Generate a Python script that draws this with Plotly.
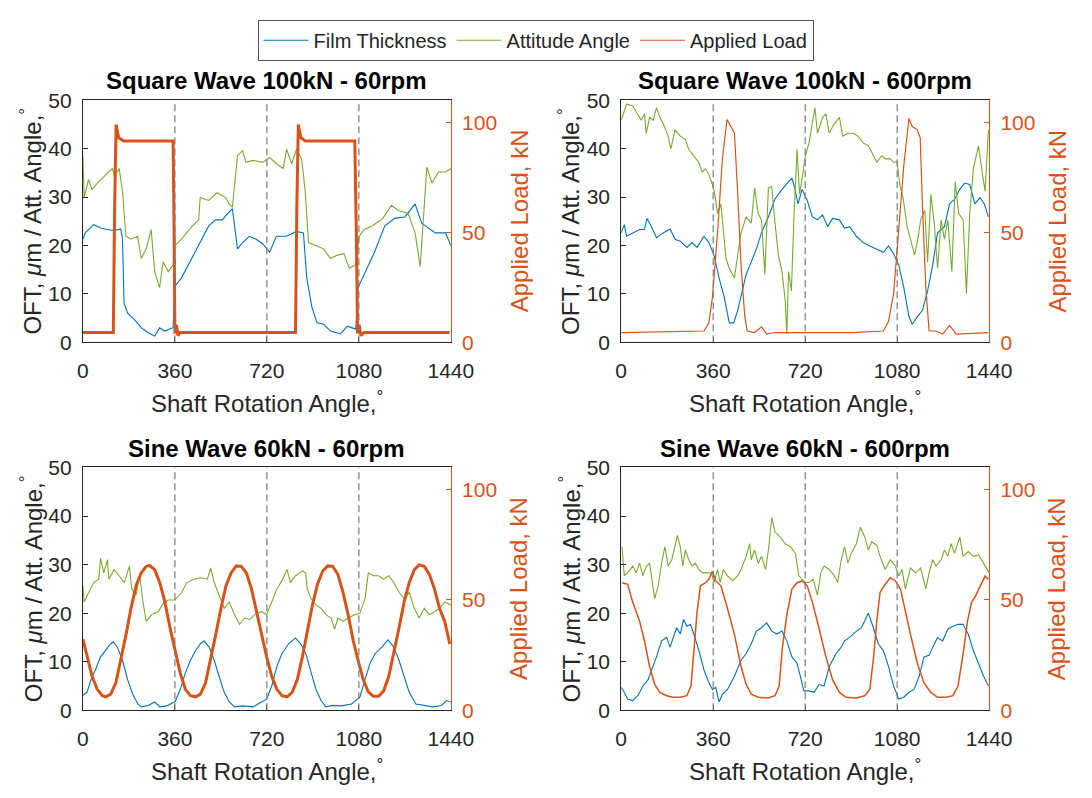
import plotly.graph_objects as go

# ---------------- data ----------------
# Square Wave 100kN - 60rpm
sq60_load_x = [0, 119, 124, 130, 140, 160, 200, 250, 300, 340, 353, 357, 360, 366, 372, 380, 450, 550, 650, 750, 832, 837, 843, 853, 870, 920, 980, 1030, 1064, 1070, 1075, 1081, 1088, 1100, 1200, 1300, 1435]
sq60_load_y = [4.4, 4.4, 60, 99, 93, 91.5, 91.5, 91.5, 91.5, 91.5, 91.5, 50, 4, 8, 3, 4.4, 4.4, 4.4, 4.4, 4.4, 4.4, 60, 99, 93, 91.5, 91.5, 91.5, 91.5, 91.5, 50, 4, 8, 3, 4.4, 4.4, 4.4, 4.4]
sq60_film_x = [0, 9, 42, 69, 95, 122, 148, 155, 161, 175, 201, 228, 254, 281, 300, 320, 353, 360, 386, 426, 466, 492, 519, 545, 572, 585, 605, 625, 651, 678, 704, 731, 757, 797, 836, 863, 876, 896, 916, 942, 969, 1008, 1035, 1068, 1077, 1101, 1141, 1181, 1220, 1260, 1300, 1326, 1353, 1379, 1419, 1440]
sq60_film_y = [21.3, 22.6, 24.3, 23.6, 23.3, 23.1, 23.4, 21.3, 8, 6, 4.7, 3, 2, 1.3, 3, 2.3, 3, 11.6, 13.3, 17.3, 21.3, 24, 25.3, 25.3, 26.9, 27.6, 19.3, 20.6, 21.9, 21.3, 20.3, 18.6, 21.9, 21.9, 22.9, 22.6, 13.3, 7.3, 4, 3.7, 2.3, 1.7, 3.3, 2.7, 11.3, 14, 18.6, 24, 25.6, 25.9, 28.6, 24.6, 23.6, 22.6, 22.6, 20]
sq60_att_x = [0, 5, 22, 36, 62, 95, 115, 124, 142, 155, 168, 188, 214, 228, 248, 267, 281, 300, 314, 334, 353, 360, 386, 426, 453, 459, 492, 525, 559, 572, 585, 605, 625, 638, 664, 704, 731, 757, 784, 797, 817, 836, 856, 870, 883, 916, 942, 969, 995, 1022, 1042, 1068, 1081, 1101, 1128, 1147, 1174, 1207, 1233, 1273, 1300, 1320, 1333, 1346, 1366, 1392, 1419, 1440]
sq60_att_y = [38.6, 29.9, 33.6, 31.6, 33.2, 34.9, 35.9, 34.2, 35.9, 31.2, 21.9, 21.3, 21.9, 17.3, 19.3, 23.3, 14.6, 11.3, 16.6, 14.6, 16, 19.9, 21.3, 23.9, 25.3, 29.9, 29.3, 30.9, 29.9, 28.6, 27.9, 38.6, 39.6, 37.2, 37.6, 37.2, 38.2, 36.9, 35.9, 39.9, 36.9, 39.9, 37.9, 31.2, 20.6, 19.9, 19.3, 17.3, 18, 18.3, 15.3, 16, 21.9, 23.3, 23.9, 24.6, 25.6, 28.3, 27.3, 26.6, 22.6, 15.6, 26.6, 36.2, 32.9, 35.2, 35.2, 35.9]

# Square Wave 100kN - 600rpm
sq600_load_x = [0, 324, 343, 357, 377, 396, 414, 423, 436, 443, 456, 469, 483, 493, 522, 549, 569, 602, 700, 800, 900, 1026, 1046, 1066, 1086, 1106, 1126, 1139, 1159, 1170, 1179, 1192, 1205, 1232, 1258, 1285, 1311, 1437]
sq600_load_y = [4.4, 5.1, 8.8, 20.5, 49.8, 83.5, 101.3, 99.6, 96.6, 95.2, 67.3, 35.1, 12.4, 5.1, 4.4, 7, 3.7, 4.4, 4.4, 4.4, 4.4, 5.1, 9.5, 22, 49.8, 80.5, 101.8, 98.1, 96.6, 93, 61.5, 24.9, 5.1, 5.1, 3.7, 7.6, 3.7, 4.4]
sq600_film_x = [0, 12, 21, 45, 72, 91, 101, 118, 138, 164, 191, 211, 231, 257, 277, 297, 324, 343, 363, 383, 403, 423, 440, 456, 469, 489, 509, 529, 549, 576, 602, 629, 655, 668, 679, 692, 708, 728, 748, 768, 788, 808, 827, 854, 874, 894, 920, 947, 973, 1000, 1026, 1046, 1066, 1086, 1106, 1126, 1139, 1159, 1179, 1199, 1219, 1238, 1265, 1285, 1305, 1325, 1344, 1364, 1384, 1404, 1421, 1437]
sq600_film_y = [22.6, 24.3, 21.9, 22.6, 23.3, 23.3, 25.6, 23.9, 21.6, 22.6, 23.4, 21.3, 20.9, 19.6, 20.6, 19.6, 21.9, 20.6, 18, 13.3, 9.3, 4, 4, 6.6, 9.3, 14, 16.6, 19.3, 22.6, 25.9, 29.6, 31.6, 33.2, 33.9, 31.9, 28.6, 31.6, 29.3, 25.9, 25.3, 26.3, 23.9, 25.6, 25.3, 23.6, 23.9, 21.9, 20.6, 19.9, 19.3, 18.6, 19.9, 18.3, 16, 11.3, 5.3, 3.7, 5.3, 6.6, 10.6, 16, 22.6, 23.9, 28.6, 29.6, 31.6, 32.9, 32.6, 28.6, 29.9, 28.6, 25.9]
sq600_att_x = [0, 8, 21, 45, 65, 78, 91, 98, 111, 125, 138, 151, 164, 184, 194, 211, 231, 251, 264, 284, 303, 317, 330, 343, 357, 366, 377, 390, 400, 410, 423, 436, 443, 456, 469, 489, 509, 522, 536, 549, 562, 576, 589, 602, 615, 629, 642, 648, 655, 666, 675, 688, 698, 708, 721, 735, 748, 758, 768, 788, 801, 814, 834, 854, 867, 887, 907, 927, 947, 967, 987, 1000, 1020, 1033, 1053, 1066, 1080, 1090, 1103, 1119, 1132, 1148, 1161, 1172, 1188, 1199, 1212, 1225, 1238, 1252, 1265, 1278, 1294, 1307, 1321, 1338, 1351, 1364, 1378, 1398, 1414, 1424, 1437]
sq600_att_y = [45.9, 47.2, 49.2, 48.9, 47.2, 45.9, 47.2, 43.2, 46.5, 45.9, 48.5, 46.5, 45.2, 42.6, 39.9, 43.9, 42.6, 41.9, 39.9, 38.6, 37.2, 35.2, 35.9, 34.6, 32.6, 30.6, 26.6, 28.6, 22.6, 17.3, 15.3, 14, 13.3, 18, 22.6, 25.9, 24.6, 31.9, 26.6, 25.3, 14, 31.9, 32.2, 24.6, 18, 14.6, 8.6, 1.7, 14.6, 10.6, 24.6, 39.9, 30.6, 33.9, 38.6, 41.2, 45.2, 48.5, 43.2, 46.5, 47.2, 43.2, 45.2, 46.5, 42.6, 43.2, 43.2, 42.6, 41.2, 40.6, 38.6, 37.2, 38.6, 37.9, 37.9, 37.2, 37.2, 32.6, 29.9, 23.9, 21.3, 18, 21.3, 25.3, 27.3, 16.6, 30.6, 24.6, 15.3, 25.3, 21.3, 25.3, 14.6, 33.2, 26.6, 25.3, 10, 26.6, 35.9, 40.6, 34.6, 31.2, 43.9]

# Sine Wave 60kN - 60rpm
sn60_load_x = [0, 16, 36, 56, 76, 89, 109, 129, 149, 169, 188, 208, 228, 248, 261, 281, 301, 321, 341, 361, 381, 401, 421, 441, 460, 480, 500, 520, 540, 560, 580, 600, 620, 640, 660, 679, 699, 719, 739, 759, 779, 799, 819, 839, 859, 878, 898, 918, 938, 958, 978, 998, 1018, 1038, 1058, 1078, 1097, 1117, 1137, 1157, 1177, 1197, 1217, 1237, 1257, 1277, 1297, 1316, 1336, 1356, 1376, 1396, 1416, 1436]
sn60_load_y = [32.2, 24.2, 15.4, 9.5, 6.6, 6.1, 7.3, 12.4, 22.7, 34.4, 46.1, 56.4, 62.2, 65.2, 65.6, 63.7, 57.8, 49, 37.3, 27.1, 16.8, 9.5, 6.6, 6.1, 7.3, 12.4, 22.7, 34.4, 46.1, 56.4, 62.2, 65.4, 65.2, 62.2, 54.9, 44.7, 33.7, 24.2, 15.4, 9.5, 6.6, 6.1, 8.1, 13.9, 24.2, 35.9, 47.6, 57.1, 63, 65.4, 65.2, 61.5, 53.4, 43.2, 31.5, 22, 13.9, 8.3, 6.3, 6.3, 8.8, 15.4, 25.6, 37.3, 49, 57.8, 63.7, 65.9, 65.2, 61.5, 54.9, 46.1, 40.3, 30]
sn60_film_x = [0, 16, 36, 49, 69, 89, 109, 119, 135, 155, 175, 195, 215, 228, 255, 281, 301, 328, 361, 381, 401, 421, 441, 460, 474, 494, 514, 533, 553, 573, 593, 626, 666, 699, 719, 739, 759, 779, 805, 832, 852, 872, 892, 912, 932, 951, 978, 1011, 1051, 1084, 1104, 1124, 1144, 1170, 1194, 1217, 1237, 1257, 1277, 1303, 1330, 1369, 1403, 1423, 1440]
sn60_film_y = [3.1, 3.7, 7, 8.3, 11, 12.3, 13.7, 14.1, 13, 10.3, 6.3, 3.3, 1.3, 0.7, 1, 1.7, 0.7, 0.9, 1.8, 4.3, 7.7, 10.3, 12.3, 13.7, 14.3, 13, 10.3, 7, 3.7, 1.7, 0.7, 0.9, 0.7, 1.7, 2.3, 5, 9, 11.7, 13.7, 14.9, 13.7, 11.7, 7.7, 4.3, 2, 0.7, 1, 0.9, 1.3, 2.7, 6.3, 9.7, 11.7, 13, 14.5, 13, 10.3, 7, 3.7, 1.3, 1, 0.7, 1, 2, 1.7]
sn60_att_x = [0, 5, 23, 42, 62, 69, 82, 96, 102, 122, 142, 162, 182, 191, 208, 222, 235, 248, 268, 295, 314, 334, 361, 387, 407, 434, 460, 487, 500, 514, 533, 553, 573, 593, 613, 633, 653, 673, 699, 719, 739, 759, 779, 799, 812, 832, 859, 872, 878, 892, 912, 932, 951, 971, 985, 998, 1018, 1038, 1064, 1084, 1104, 1117, 1137, 1157, 1177, 1197, 1217, 1237, 1257, 1277, 1297, 1316, 1336, 1356, 1376, 1396, 1416, 1440]
sn60_att_y = [25.7, 22.3, 24.3, 26.3, 27, 31.3, 28.3, 31, 27, 29, 27.7, 26.3, 29.7, 25, 23.7, 27.7, 22.3, 18.3, 19.7, 20.3, 22, 22.7, 22.7, 24.3, 26.3, 27, 27.3, 27, 29.3, 26.3, 23.7, 21, 22.3, 19.7, 17.7, 19, 18.7, 19.7, 20.3, 19.7, 22.3, 25, 26.7, 29, 26.3, 27.7, 28.7, 28.3, 25, 23, 21.7, 21, 19.7, 19, 16.7, 19, 18.3, 19, 19.7, 20, 23, 28.3, 27.7, 27.7, 27, 27.7, 26.3, 24.3, 23, 24.3, 21, 19, 21, 19.7, 20.3, 21, 22.3, 21.7]

# Sine Wave 60kN - 600rpm
sn600_load_x = [3, 25, 45, 72, 91, 111, 131, 151, 178, 204, 231, 257, 273, 286, 297, 310, 330, 343, 357, 370, 390, 416, 443, 469, 489, 509, 536, 575, 602, 618, 631, 648, 668, 688, 708, 728, 748, 774, 801, 827, 854, 880, 920, 953, 973, 989, 1000, 1013, 1033, 1053, 1073, 1093, 1112, 1132, 1159, 1185, 1212, 1238, 1272, 1298, 1318, 1338, 1355, 1371, 1384, 1404, 1424, 1437]
sn600_load_y = [57.8, 57.1, 49, 40.3, 31.5, 19.8, 11.7, 8.1, 6.6, 5.9, 5.9, 6.6, 11, 28.6, 44.7, 56.4, 57.8, 59.3, 63, 58.6, 56.4, 46.1, 34.4, 19.8, 11.7, 7.3, 5.9, 5.6, 6.6, 11, 28.6, 43.2, 54.9, 57.8, 58.6, 56.4, 49, 37.3, 24.2, 13.9, 8.1, 5.9, 5.6, 6.6, 9.5, 25.6, 40.3, 53.4, 57.1, 60, 58.6, 54.9, 44.7, 34.4, 21.2, 12.4, 8.1, 5.9, 5.9, 6.6, 11, 25.6, 40.3, 49, 51.2, 56.4, 60.8, 59.3]
sn600_film_x = [0, 12, 25, 45, 65, 85, 105, 125, 138, 158, 178, 191, 204, 217, 231, 244, 257, 271, 284, 304, 324, 343, 357, 370, 383, 396, 416, 443, 469, 489, 509, 529, 549, 569, 589, 609, 629, 648, 668, 688, 701, 715, 735, 755, 774, 794, 814, 841, 861, 874, 894, 914, 940, 967, 987, 1006, 1026, 1046, 1066, 1086, 1106, 1126, 1146, 1166, 1185, 1205, 1219, 1238, 1258, 1278, 1298, 1318, 1338, 1358, 1378, 1398, 1418, 1437]
sn600_film_y = [4.7, 3.7, 2.3, 2, 3, 5, 6.3, 9, 11, 14.3, 15, 13, 15, 17, 15.7, 18.7, 17.3, 17.7, 15.7, 12.3, 8.3, 5.7, 4.3, 4.7, 1.7, 3.3, 4.3, 7, 10.3, 11.7, 13.7, 16.3, 17, 18, 16.3, 15.7, 16.3, 14.3, 11, 9.7, 7, 4, 4, 3.7, 5.3, 5, 9, 11.7, 13, 14.3, 15, 16, 17, 20, 17, 13.7, 12.3, 9, 5, 2.3, 2.7, 3.7, 4.3, 7, 11, 11.3, 13, 15, 14.3, 16.7, 17.3, 17.7, 17.7, 15.7, 12.3, 9.7, 7, 5]
sn600_att_x = [3, 12, 25, 45, 58, 72, 85, 98, 111, 122, 131, 145, 158, 171, 184, 198, 211, 220, 231, 241, 251, 264, 277, 290, 304, 317, 337, 353, 363, 377, 387, 400, 416, 436, 456, 469, 489, 503, 509, 522, 536, 549, 565, 576, 589, 602, 622, 642, 662, 682, 695, 708, 721, 735, 751, 768, 781, 794, 814, 834, 847, 861, 874, 887, 900, 920, 936, 953, 967, 980, 1000, 1013, 1033, 1053, 1073, 1086, 1099, 1112, 1132, 1152, 1172, 1192, 1205, 1219, 1232, 1252, 1265, 1278, 1291, 1305, 1325, 1338, 1358, 1378, 1398, 1418, 1440]
sn600_att_y = [33.7, 27.7, 28.3, 29.7, 28.3, 30.3, 27.7, 29.7, 30.3, 25.7, 23, 25.7, 30.3, 33.7, 29.7, 31, 33.7, 36, 33.7, 29.7, 33, 31, 29.7, 30.3, 29, 28.3, 28.3, 28.3, 26.3, 29, 26.3, 29, 27.7, 26.7, 27.7, 29, 31.7, 34.3, 31, 33, 30.3, 31.7, 29, 33, 39.7, 36.7, 35.7, 34.3, 33.7, 32.3, 27.7, 27, 26.3, 26.3, 27, 23.7, 28.3, 29.7, 29, 27.7, 26.3, 31, 33.7, 30.3, 32.3, 34.3, 37.7, 35.7, 33, 34.7, 34, 31.7, 29, 31, 29.7, 27.7, 29, 25, 29.3, 28.3, 29.3, 25, 28.3, 31, 29.7, 31, 33, 31.7, 34.3, 32.3, 35.7, 31.7, 32.7, 31.7, 32, 30.3, 28.3]

titles = ["Square Wave 100kN - 60rpm", "Square Wave 100kN - 600rpm",
          "Sine Wave 60kN - 60rpm", "Sine Wave 60kN - 600rpm"]
series_names = ["Film Thickness", "Attitude Angle", "Applied Load"]
x_title = "Shaft Rotation Angle,<sup>°</sup>"
y_left_title = "OFT, <i>μ</i>m / Att. Angle,<sup>°</sup>"
y_right_title = "Applied Load, kN"
x_ticks = [0, 360, 720, 1080, 1440]
left_ticks = [0, 10, 20, 30, 40, 50]
right_ticks = [0, 50, 100]
cycle_marks = [360, 720, 1080]

panels = [
    (sq60_film_x, sq60_film_y, sq60_att_x, sq60_att_y, sq60_load_x, sq60_load_y),
    (sq600_film_x, sq600_film_y, sq600_att_x, sq600_att_y, sq600_load_x, sq600_load_y),
    (sn60_film_x, sn60_film_y, sn60_att_x, sn60_att_y, sn60_load_x, sn60_load_y),
    (sn600_film_x, sn600_film_y, sn600_att_x, sn600_att_y, sn600_load_x, sn600_load_y),
]

# ---------------- styling ----------------
W, H = 1092, 798
BLUE, GREEN, ORANGE = "#0072BD", "#77AC30", "#D95319"
DARK = "#262626"
FONT = "Liberation Sans, Arial, Helvetica, sans-serif"
load_widths = [3.0, 1.2, 3.0, 1.5]
TICK_SIZE = 21
LABEL_SIZE = 24

# pixel boxes of the four plot areas: (left, right, top, bottom)
boxes = [(79, 457, 91, 340), (632, 1010, 91, 340),
         (79, 457, 469, 719), (632, 1010, 469, 719)]


def px(xp):
    return xp / W


def py(yp):
    return 1 - yp / H


fig = go.Figure()
layout = dict(width=W, height=H, margin=dict(l=0, r=0, t=0, b=0),
              plot_bgcolor="white", paper_bgcolor="white",
              font=dict(family=FONT, color=DARK, size=20),
              showlegend=True,
              legend=dict(orientation="h", x=px(544), xanchor="center", y=py(8), yanchor="top",
                          bordercolor="#555555", borderwidth=1, bgcolor="white",
                          font=dict(size=20, color=DARK, family=FONT),
                          itemwidth=45, tracegroupgap=0, traceorder="normal"))
annotations = []
shapes = []

for i, (fx, fy, ax_, ay, lx, ly) in enumerate(panels):
    l, r, t, b = boxes[i]
    xd = [px(l), px(r)]
    yd = [py(b), py(t)]
    xn = i + 1
    yl = 2 * i + 1
    yr = 2 * i + 2
    xname = "xaxis" if xn == 1 else f"xaxis{xn}"
    ylname = "yaxis" if yl == 1 else f"yaxis{yl}"
    yrname = f"yaxis{yr}"
    xref = "x" if xn == 1 else f"x{xn}"
    ylref = "y" if yl == 1 else f"y{yl}"
    yrref = f"y{yr}"

    layout[xname] = dict(domain=xd, range=[0, 1440], tickvals=x_ticks, anchor=ylref,
                         showline=True, linecolor=DARK, linewidth=1, mirror=True,
                         ticks="inside", ticklen=5, tickcolor=DARK, showgrid=False, zeroline=False,
                         tickfont=dict(size=TICK_SIZE, color=DARK), ticklabelstandoff=10)
    layout[ylname] = dict(domain=yd, range=[0, 50], tickvals=left_ticks, anchor=xref,
                          showline=True, linecolor=DARK, linewidth=1,
                          ticks="inside", ticklen=5, tickcolor=DARK, showgrid=False, zeroline=False,
                          tickfont=dict(size=TICK_SIZE, color=DARK), ticklabelstandoff=6)
    layout[yrname] = dict(domain=yd, range=[0, 110], tickvals=right_ticks, anchor=xref,
                          overlaying=ylref, side="right",
                          showline=True, linecolor=ORANGE, linewidth=1,
                          ticks="inside", ticklen=5, tickcolor=ORANGE, showgrid=False, zeroline=False,
                          tickfont=dict(size=TICK_SIZE, color=ORANGE), ticklabelstandoff=6)

    fig.add_trace(go.Scatter(x=fx, y=fy, mode="lines", name=series_names[0], showlegend=(i == 0),
                             legendrank=1, line=dict(color=BLUE, width=1.1), xaxis=xref, yaxis=ylref))
    fig.add_trace(go.Scatter(x=ax_, y=ay, mode="lines", name=series_names[1], showlegend=(i == 0),
                             legendrank=2, line=dict(color=GREEN, width=1.1), xaxis=xref, yaxis=ylref))
    # legend entry for the load taken from the thin-line (600rpm) panel, as in the reference
    fig.add_trace(go.Scatter(x=lx, y=ly, mode="lines", name=series_names[2], showlegend=(i == 1),
                             legendrank=3, line=dict(color=ORANGE, width=load_widths[i]),
                             xaxis=xref, yaxis=yrref))

    for c in cycle_marks:
        shapes.append(dict(type="line", xref=xref, yref=f"{ylref} domain", x0=c, x1=c, y0=0, y1=1,
                           line=dict(color="#7a7a7a", width=1.2, dash="7px,4px")))

    cx = (l + r) / 2
    cy = (t + b) / 2
    annotations.append(dict(text=f"<b>{titles[i]}</b>", xref="paper", yref="paper",
                            x=px(cx), y=py(t - 20), xanchor="center", yanchor="middle",
                            showarrow=False, font=dict(size=24, color="black", family=FONT)))
    annotations.append(dict(text=x_title, xref="paper", yref="paper",
                            x=px(cx), y=py(b + 62), xanchor="center", yanchor="middle",
                            showarrow=False, font=dict(size=LABEL_SIZE, color=DARK, family=FONT)))
    annotations.append(dict(text=y_left_title, xref="paper", yref="paper", textangle=-90,
                            x=px(l - 53), y=py(cy), xanchor="center", yanchor="middle",
                            showarrow=False, font=dict(size=LABEL_SIZE, color=DARK, family=FONT)))
    annotations.append(dict(text=y_right_title, xref="paper", yref="paper", textangle=-90,
                            x=px(r + 70), y=py(cy), xanchor="center", yanchor="middle",
                            showarrow=False, font=dict(size=LABEL_SIZE, color=ORANGE, family=FONT)))

layout["annotations"] = annotations
layout["shapes"] = shapes
fig.update_layout(**layout)
fig.write_html("out.html")
